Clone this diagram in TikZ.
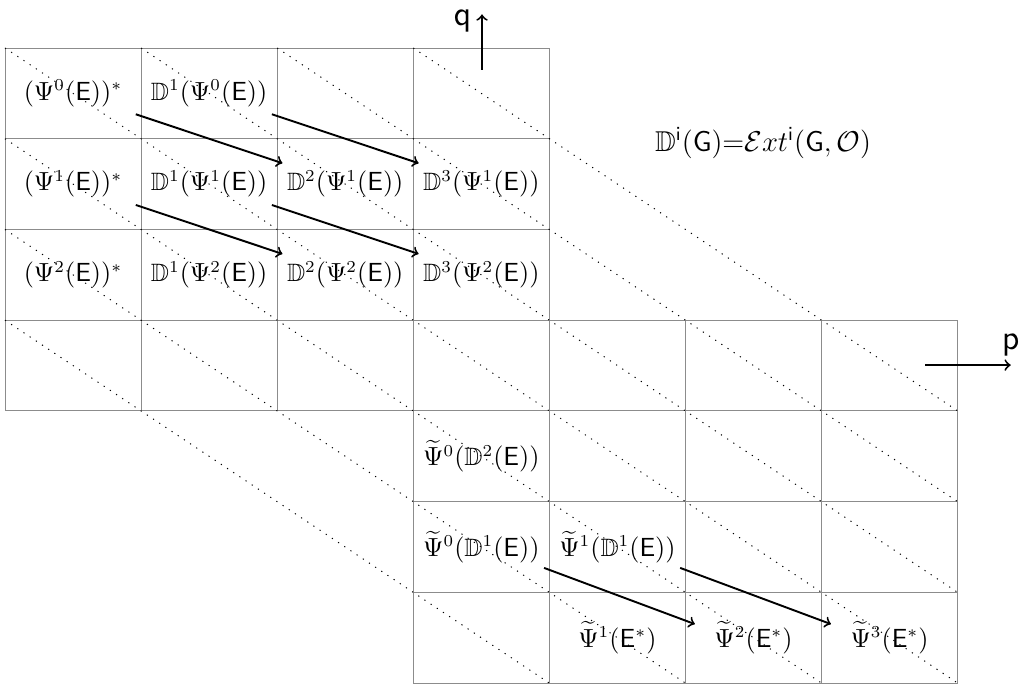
\documentclass[tikz,border=0pt]{standalone}
\usepackage{amsmath, amssymb}
\usetikzlibrary{calc, positioning}

\begin{document}
\begin{tikzpicture}[>=to, x=2cm, y=1.3333cm,
    lbl/.style={minimum width=1.83cm, minimum height=0.6cm, inner sep=1pt, font=\fontsize{10.5pt}{13pt}\selectfont},
    map/.style={->, thick},
    diag/.style={line width=0.4pt, dash pattern=on 0.5pt off 2.6pt}]
    \useasboundingbox (-0.0367,0.529) rectangle (7.458,-7.034);
    % 1. Hai lưới ô
    \foreach \i in {0,...,3} {
        \foreach \j in {0,...,3} {
            \draw[black!45] (\i,-\j) rectangle ++(1,-1);
            \draw[black!45] (\i+3,-\j-3) rectangle ++(1,-1);
        }
    }
    
    % 2. Các đường chéo chấm
    \foreach \xa/\ya/\xb/\yb in {0/0/7/7, 1/0/7/6, 2/0/7/5, 3/0/7/4, 0/1/6/7, 0/2/5/7, 0/3/4/7} {
        \draw[diag] (\xa,-\ya) -- (\xb,-\yb);
    }
    
    % 3. Các nhãn trong ô
    \foreach \r in {0,1,2} {
        \node[lbl] (s\r) at (0.5,-\r-0.5) {$(\Psi^{\r}(\mathsf{E}))^{*}$};
        \node[lbl] (d1\r) at (1.5,-\r-0.5) {$\mathbb{D}^{1}(\Psi^{\r}(\mathsf{E}))$};
    }
    \foreach \r in {1,2} {
        \foreach \k in {2,3} {
            \node[lbl] (d\k\r) at (\k+0.5,-\r-0.5) {$\mathbb{D}^{\k}(\Psi^{\r}(\mathsf{E}))$};
        }
    }
    \node[lbl] (t2) at (3.5,-4.5) {$\widetilde{\Psi}^{0}(\mathbb{D}^{2}(\mathsf{E}))$};
    \node[lbl] (t0) at (3.5,-5.5) {$\widetilde{\Psi}^{0}(\mathbb{D}^{1}(\mathsf{E}))$};
    \node[lbl] (t1) at (4.5,-5.5) {$\widetilde{\Psi}^{1}(\mathbb{D}^{1}(\mathsf{E}))$};
    \foreach \k in {1,2,3} {
        \node[lbl] (u\k) at (\k+3.5,-6.5) {$\widetilde{\Psi}^{\k}(\mathsf{E}^{*})$};
    }
    
    % 4. Các mũi tên vi phân
    \draw[map] (s0.south east) -- (d21.north west);
    \draw[map] (d10.south east) -- (d31.north west);
    \draw[map] (s1.south east) -- (d22.north west);
    \draw[map] (d11.south east) -- (d32.north west);
    \draw[map] (t0.south east) -- ($(u2.north west)+(0.03,-0.08)$);
    \draw[map] (t1.south east) -- ($(u3.north west)+(0.03,-0.08)$);
    
    % 5. Các trục p, q
    \coordinate (qtail) at (3.505,-0.242);
    \coordinate (qhead) at (3.505,0.37);
    \draw[map] (qtail) -- (qhead);
    \node[left=1pt, yshift=-3pt, font=\Large] (qlab) at (qhead) {$\mathsf{q}$};
    \coordinate (ptail) at (6.76,-3.495);
    \coordinate (phead) at (7.39,-3.495);
    \draw[map] (ptail) -- (phead);
    \node[above=0pt, font=\Large] (plab) at (phead) {$\mathsf{p}$};
    
    % 6. Định nghĩa
    \node[font=\large] (defn) at (5.57,-1.047) {$\mathbb{D}^{\mathsf{i}}(\mathsf{G}){=}\mathcal{E}xt^{\mathsf{i}}(\mathsf{G},\mathcal{O})$};
    
\end{tikzpicture}
\end{document}
